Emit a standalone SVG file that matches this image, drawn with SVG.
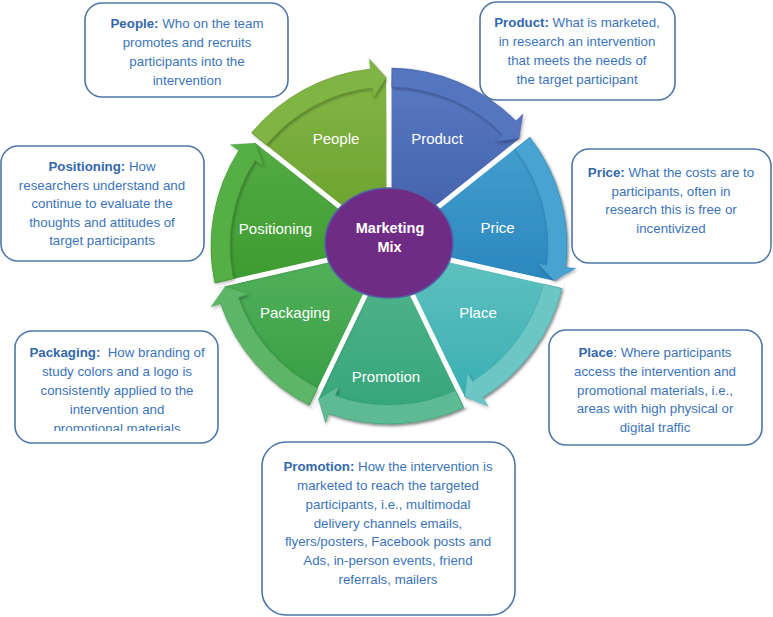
<svg xmlns="http://www.w3.org/2000/svg" width="773" height="617" viewBox="0 0 773 617">
<defs>
<style>
.lbl{font-family:"Liberation Sans",Arial,sans-serif;font-size:15px;fill:#ffffff;text-anchor:middle}
.ctr{font-family:"Liberation Sans",Arial,sans-serif;font-size:14.5px;font-weight:bold;fill:#ffffff;text-anchor:middle}
.box{fill:#ffffff;stroke:#4f76a8;stroke-width:1.6}
.txt{font-family:"Liberation Sans",Arial,sans-serif;font-size:13.3px;fill:#3b74b9;text-anchor:middle}
.b{font-weight:bold;fill:#3468aa}
.div{stroke:#ffffff;stroke-width:5;stroke-linecap:butt}
.band{stroke-width:0.8;stroke-opacity:0.5}
.sh{filter:url(#shadow)}
</style>
<filter id="shadow" x="-20%" y="-20%" width="140%" height="140%">
<feDropShadow dx="1.2" dy="1.8" stdDeviation="1.6" flood-color="#000" flood-opacity="0.3"/>
</filter>
<linearGradient id="gProduct" x1="0" y1="0" x2="0" y2="1"><stop offset="0" stop-color="#5b7ac3"/><stop offset="1" stop-color="#3f5ea9"/></linearGradient>
<linearGradient id="gPrice" x1="0" y1="0" x2="0" y2="1"><stop offset="0" stop-color="#459fce"/><stop offset="1" stop-color="#2b87be"/></linearGradient>
<linearGradient id="gPlace" x1="0" y1="0" x2="0" y2="1"><stop offset="0" stop-color="#62c2c0"/><stop offset="1" stop-color="#3aafb3"/></linearGradient>
<linearGradient id="gPromotion" x1="0" y1="0" x2="0" y2="1"><stop offset="0" stop-color="#55b68d"/><stop offset="1" stop-color="#34a479"/></linearGradient>
<linearGradient id="gPackaging" x1="0" y1="0" x2="0" y2="1"><stop offset="0" stop-color="#55b25c"/><stop offset="1" stop-color="#369d44"/></linearGradient>
<linearGradient id="gPositioning" x1="0" y1="0" x2="0" y2="1"><stop offset="0" stop-color="#55ab44"/><stop offset="1" stop-color="#3c9b30"/></linearGradient>
<linearGradient id="gPeople" x1="0" y1="0" x2="0" y2="1"><stop offset="0" stop-color="#84b646"/><stop offset="1" stop-color="#689e2b"/></linearGradient>
<clipPath id="clipPack"><rect x="15" y="331" width="203" height="100"/></clipPath>
</defs>

<!-- wheel segments -->
<g id="seg-product">
<path class="sh" d="M389 246 L389 68 A178 178 0 0 1 515.80 121.08 L518.88 138.66 Z" fill="url(#gProduct)"/>
<text class="lbl" x="437" y="144">Product</text>
</g>
<g id="seg-price">
<path class="sh" d="M389 246 L528.17 135.02 A178 178 0 0 1 565.73 267.25 L553.90 280.62 Z" fill="url(#gPrice)"/>
<text class="lbl" x="497.5" y="233">Price</text>
</g>
<g id="seg-place">
<path class="sh" d="M389 246 L562.54 285.61 A178 178 0 0 1 482.57 397.42 L464.75 396.51 Z" fill="url(#gPlace)"/>
<text class="lbl" x="478" y="318">Place</text>
</g>
<g id="seg-promotion">
<path class="sh" d="M389 246 L466.23 406.37 A178 178 0 0 1 328.96 413.57 L318.55 399.07 Z" fill="url(#gPromotion)"/>
<text class="lbl" x="386" y="382">Promotion</text>
</g>
<g id="seg-packaging">
<path class="sh" d="M389 246 L311.77 406.37 A178 178 0 0 1 220.55 303.53 L225.40 286.36 Z" fill="url(#gPackaging)"/>
<text class="lbl" x="295" y="318">Packaging</text>
</g>
<g id="seg-positioning">
<path class="sh" d="M389 246 L215.46 285.61 A178 178 0 0 1 238.99 150.18 L255.45 143.26 Z" fill="url(#gPositioning)"/>
<text class="lbl" x="275.5" y="234">Positioning</text>
</g>
<g id="seg-people">
<path class="sh" d="M389 246 L249.83 135.02 A178 178 0 0 1 370.39 68.98 L386.06 77.53 Z" fill="url(#gPeople)"/>
<text class="lbl" x="336" y="144">People</text>
</g>

<g id="dividers">
<line class="div" x1="389" y1="246" x2="389" y2="66"/>
<line class="div" x1="389" y1="246" x2="528.95" y2="134.40"/>
<line class="div" x1="389" y1="246" x2="563.51" y2="285.83"/>
<line class="div" x1="389" y1="246" x2="466.66" y2="407.27"/>
<line class="div" x1="389" y1="246" x2="311.34" y2="407.27"/>
<line class="div" x1="389" y1="246" x2="214.49" y2="285.83"/>
<line class="div" x1="389" y1="246" x2="249.05" y2="134.40"/>
</g>

<g id="connectors">
<path class="band sh" fill="#5575bf" stroke="#3a56a0" d="M392.11 68.03 A178 178 0 0 1 515.80 121.08 L522.93 114.06 L518.88 138.66 L495.14 141.43 L502.27 134.41 A159 159 0 0 0 391.77 87.02 Z"/>
<path class="band sh" fill="#4aa3d1" stroke="#2b7fb3" d="M530.08 137.46 A178 178 0 0 1 565.73 267.25 L575.66 268.45 L553.90 280.62 L537.93 263.79 L546.86 264.98 A159 159 0 0 0 515.02 149.05 Z"/>
<path class="band sh" fill="#6cc6c3" stroke="#38a7a9" d="M561.82 288.63 A178 178 0 0 1 482.57 397.42 L487.83 405.93 L464.75 396.51 L467.33 372.75 L472.58 381.26 A159 159 0 0 0 543.37 284.08 Z"/>
<path class="band sh" fill="#5dba93" stroke="#33a070" d="M463.41 407.70 A178 178 0 0 1 328.96 413.57 L325.58 422.98 L318.55 399.07 L338.74 386.27 L335.37 395.68 A159 159 0 0 0 455.47 390.44 Z"/>
<path class="band sh" fill="#5db667" stroke="#35983f" d="M308.98 405.00 A178 178 0 0 1 220.55 303.53 L211.09 306.76 L225.40 286.36 L248.00 294.16 L238.53 297.39 A159 159 0 0 0 317.52 388.03 Z"/>
<path class="band sh" fill="#57af45" stroke="#36922a" d="M214.80 282.58 A178 178 0 0 1 238.99 150.18 L230.57 144.79 L255.45 143.26 L263.43 165.79 L255.01 160.40 A159 159 0 0 0 233.39 278.67 Z"/>
<path class="band sh" fill="#80b444" stroke="#5f9424" d="M251.79 132.61 A178 178 0 0 1 370.39 68.98 L369.35 59.03 L386.06 77.53 L373.43 97.82 L372.38 87.87 A159 159 0 0 0 266.44 144.71 Z"/>
</g>

<g id="center">
<ellipse cx="389" cy="243" rx="64" ry="55" fill="#6f2c85" stroke="#4f63a6" stroke-width="1.5"/>
<text class="ctr" x="390" y="233">Marketing</text>
<text class="ctr" x="389.5" y="252">Mix</text>
</g>

<!-- description boxes -->
<g id="box-people">
<rect class="box" x="85" y="3" width="203" height="94" rx="17"/>
<text class="txt" x="187" y="27.5"><tspan class="b">People:</tspan> Who on the team</text>
<text class="txt" x="187" y="46.5">promotes and recruits</text>
<text class="txt" x="187" y="65.5">participants into the</text>
<text class="txt" x="187" y="84.5">intervention</text>
</g>
<g id="box-product">
<rect class="box" x="480" y="2" width="195" height="98" rx="17"/>
<text class="txt" x="577" y="26.5"><tspan class="b">Product:</tspan> What is marketed,</text>
<text class="txt" x="577" y="45.5">in research an intervention</text>
<text class="txt" x="577" y="64.5">that meets the needs of</text>
<text class="txt" x="577" y="83.5">the target participant</text>
</g>
<g id="box-positioning">
<rect class="box" x="1" y="146" width="203" height="115" rx="17"/>
<text class="txt" x="102" y="171"><tspan class="b">Positioning:</tspan> How</text>
<text class="txt" x="102" y="189.5">researchers understand and</text>
<text class="txt" x="102" y="208">continue to evaluate the</text>
<text class="txt" x="102" y="226.5">thoughts and attitudes of</text>
<text class="txt" x="102" y="245">target participants</text>
</g>
<g id="box-price">
<rect class="box" x="572" y="149" width="199" height="114" rx="17"/>
<text class="txt" x="671" y="177"><tspan class="b">Price:</tspan> What the costs are to</text>
<text class="txt" x="671" y="195.7">participants, often in</text>
<text class="txt" x="671" y="214.3">research this is free or</text>
<text class="txt" x="671" y="233">incentivized</text>
</g>
<g id="box-packaging">
<rect class="box" x="15" y="331" width="203" height="112" rx="17"/>
<g clip-path="url(#clipPack)">
<text class="txt" x="117" y="357"><tspan class="b">Packaging:</tspan>&#160; How branding of</text>
<text class="txt" x="117" y="376">study colors and a logo is</text>
<text class="txt" x="117" y="395">consistently applied to the</text>
<text class="txt" x="117" y="414">intervention and</text>
<text class="txt" x="117" y="433">promotional materials</text>
</g>
</g>
<g id="box-place">
<rect class="box" x="549" y="330" width="213" height="115" rx="17"/>
<text class="txt" x="655" y="357"><tspan class="b">Place</tspan>: Where participants</text>
<text class="txt" x="655" y="375.75">access the intervention and</text>
<text class="txt" x="655" y="394.5">promotional materials, i.e.,</text>
<text class="txt" x="655" y="413.25">areas with high physical or</text>
<text class="txt" x="655" y="432">digital traffic</text>
</g>
<g id="box-promotion">
<rect class="box" x="262" y="442" width="253" height="173" rx="24"/>
<text class="txt" x="388" y="471"><tspan class="b">Promotion:</tspan> How the intervention is</text>
<text class="txt" x="388" y="489.8">marketed to reach the targeted</text>
<text class="txt" x="388" y="508.7">participants, i.e., multimodal</text>
<text class="txt" x="388" y="527.5">delivery channels emails,</text>
<text class="txt" x="388" y="546.3">flyers/posters, Facebook posts and</text>
<text class="txt" x="388" y="565.2">Ads, in-person events, friend</text>
<text class="txt" x="388" y="584">referrals, mailers</text>
</g>
</svg>
